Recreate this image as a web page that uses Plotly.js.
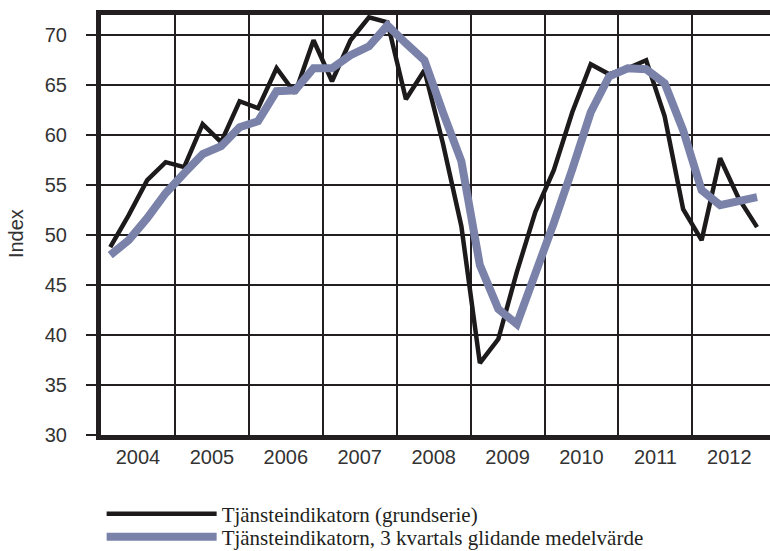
<!DOCTYPE html>
<html>
<head>
<meta charset="utf-8">
<script src="https://cdn.plot.ly/plotly-3.0.1.min.js"></script>
<style>
  html, body { margin: 0; padding: 0; background: #ffffff; }
  #chart { width: 770px; height: 551px; }
</style>
</head>
<body>
<div id="chart"></div>
<script>
// Categories
const years = [2004, 2005, 2006, 2007, 2008, 2009, 2010, 2011, 2012];
const quarters = [1, 2, 3, 4];
const yearLabels = ["2004", "2005", "2006", "2007", "2008", "2009", "2010", "2011", "2012"];

// Series values (quarterly, 2004Q1 .. 2012Q4)
const grundserie = [
  48.8, 52.0, 55.5, 57.3,
  56.8, 61.1, 59.3, 63.4,
  62.7, 66.7, 64.2, 69.5,
  65.4, 69.5, 71.8, 71.3,
  63.6, 66.5, 59.2, 50.9,
  37.2, 39.6, 46.3, 52.3,
  56.5, 62.3, 67.1, 66.1,
  66.7, 67.5, 61.9, 52.6,
  49.5, 57.7, 53.7, 50.8
];
const glidande = [
  48.0, 49.5, 51.7, 54.2,
  56.2, 58.1, 58.9, 60.8,
  61.4, 64.4, 64.5, 66.7,
  66.7, 68.0, 68.9, 71.0,
  69.2, 67.5, 62.3, 57.4,
  47.0, 42.6, 41.1, 46.0,
  51.2, 56.6, 62.3, 65.9,
  66.7, 66.6, 65.2, 60.5,
  54.5, 53.0, 53.4, 53.8
];
const seriesNames = [
  "Tjänsteindikatorn (grundserie)",
  "Tjänsteindikatorn, 3 kvartals glidande medelvärde"
];
const yTicks = [30, 35, 40, 45, 50, 55, 60, 65, 70];
const yTitle = "Index";

// Quarter positions on a continuous time axis (middle of each quarter)
const xq = [];
years.forEach(y => quarters.forEach(q => xq.push(y + (q - 0.5) / 4)));
const labelPos = years.map(y => y + 0.5);
const yearBounds = years.slice(1);

const traces = [
  {
    x: xq, y: grundserie, name: seriesNames[0], type: "scatter", mode: "lines",
    line: { color: "#1c1a1b", width: 4.5 }, legend: "legend"
  },
  {
    x: xq, y: glidande, name: seriesNames[1], type: "scatter", mode: "lines",
    line: { color: "#7a82aa", width: 8 }, legend: "legend2"
  }
];

const gridCol = "#231f20";
const sans = "Liberation Sans, Arial, sans-serif";
const legendFont = { family: "Liberation Serif, Times New Roman, serif", size: 21, color: "#231f20" };
const layout = {
  width: 770, height: 551,
  paper_bgcolor: "#ffffff", plot_bgcolor: "#ffffff",
  margin: { l: 101, r: 0, t: 15, b: 116, autoexpand: false },
  showlegend: true,
  legend: {
    xref: "container", yref: "container",
    x: 0.132, xanchor: "left", y: 1 - 514 / 551, yanchor: "middle",
    itemwidth: 110, font: legendFont, bgcolor: "rgba(0,0,0,0)"
  },
  legend2: {
    xref: "container", yref: "container",
    x: 0.132, xanchor: "left", y: 1 - 537 / 551, yanchor: "middle",
    itemwidth: 110, font: legendFont, bgcolor: "rgba(0,0,0,0)"
  },
  annotations: [{
    text: yTitle, textangle: -90, showarrow: false,
    xref: "paper", yref: "paper", x: -0.126, y: 0.48,
    xanchor: "center", yanchor: "middle",
    font: { family: sans, size: 20, color: "#333333" }
  }],
  xaxis: {
    range: [2004, 2013.05],
    tickmode: "array", tickvals: labelPos, ticktext: yearLabels,
    ticks: "", showgrid: false, zeroline: false, ticklabelstandoff: 0,
    showline: true, linewidth: 5, linecolor: gridCol, mirror: true,
    tickfont: { family: sans, size: 20, color: "#333333" },
    minor: { tickmode: "array", tickvals: yearBounds, showgrid: true, gridcolor: gridCol, gridwidth: 2, ticks: "" },
    fixedrange: true
  },
  yaxis: {
    range: [30, 72.03],
    tickmode: "array", tickvals: yTicks,
    ticks: "outside", ticklen: 10, tickwidth: 2, tickcolor: gridCol, ticklabelstandoff: 15,
    showgrid: true, gridcolor: gridCol, gridwidth: 2, zeroline: false,
    showline: true, linewidth: 5, linecolor: gridCol,
    tickfont: { family: sans, size: 20, color: "#333333" },
    fixedrange: true
  }
};

Plotly.newPlot("chart", traces, layout, { displayModeBar: false, staticPlot: true });
</script>
</body>
</html>
